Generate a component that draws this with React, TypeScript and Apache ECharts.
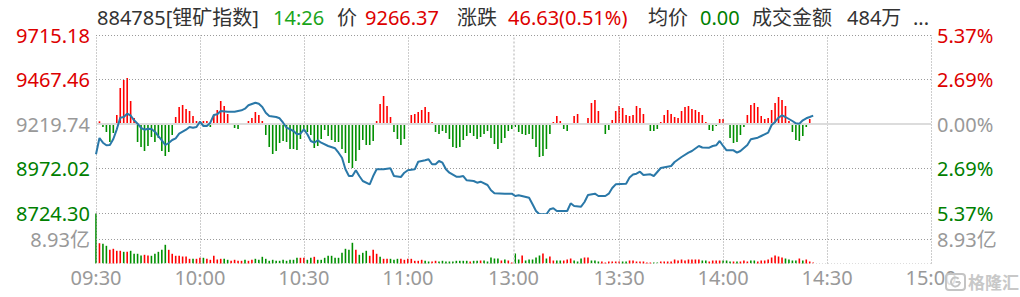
import React, { useEffect, useRef } from 'react';
import * as echarts from 'echarts';

const TXT_RED = '#dd0000';
const TXT_GREEN = '#008000';
const BAR_RED = '#ff0000';
const BAR_GREEN = '#008f00';
const GRAY = '#999999';
const LINE_BLUE = '#2a78a8';
const FONT = "'Noto Sans', 'Noto Sans CJK SC', sans-serif";

const prevClose = 9219.74;
const priceTicks = [9715.18, 9467.46, 9219.74, 8972.02, 8724.3];
const pctTicks = [5.37, 2.69, 0, -2.69, -5.37];
const volTicks = [8.93];
const timeLabelPos = [0, 30, 60, 90, 120.5, 151, 181, 211, 241];
const timeLabels = ['09:30', '10:00', '10:30', '11:00', '13:00', '13:30', '14:00', '14:30', '15:00'];

// index price: [minute slot, value]
const pricePoints = [
  [0, 9051.0], [1, 9141.8], [2, 9115.6], [3, 9101.2], [4, 9102.8], [5, 9136.2], [6, 9190.2], [7, 9254.8], [8, 9258.7], [9, 9277.1],
  [10, 9267.1], [11, 9240.3], [12, 9221.4], [13, 9197.5], [14, 9188.0], [15, 9193.6], [16, 9191.9], [17, 9176.9], [18, 9152.9], [19, 9129.0],
  [20, 9102.8], [21, 9114.0], [22, 9130.7], [23, 9140.1], [24, 9165.7], [26, 9188.0], [27, 9203.0], [28, 9199.1], [29, 9203.0], [30, 9232.5],
  [31, 9208.6], [32, 9208.6], [33, 9227.0], [34, 9269.8], [35, 9273.7], [36, 9292.1], [38, 9288.2], [40, 9288.2], [42, 9296.0], [43, 9304.9],
  [44, 9323.8], [46, 9338.3], [47, 9332.7], [48, 9314.4], [49, 9282.6], [50, 9264.3], [52, 9258.7], [53, 9251.5], [54, 9227.0], [55, 9199.1],
  [57, 9180.8], [58, 9162.4], [59, 9165.7], [60, 9190.2], [61, 9162.4], [62, 9125.1], [63, 9115.6], [64, 9129.0], [65, 9115.6], [67, 9097.3],
  [69, 9084.5], [70, 9060.0], [71, 9032.1], [72, 8967.6], [73, 8930.2], [74, 8930.2], [75, 8962.0], [76, 8930.2], [77, 8902.4], [79, 8884.0],
  [80, 8930.2], [81, 8967.6], [83, 8967.6], [85, 8973.1], [86, 8930.2], [88, 8924.7], [89, 8948.6], [90, 8962.0], [92, 8967.6], [93, 9009.8],
  [95, 9017.6], [96, 9023.2], [97, 8995.4], [98, 8995.4], [99, 9013.7], [100, 9004.3], [101, 8967.6], [102, 8948.6], [104, 8926.3], [105, 8926.3],
  [106, 8930.2], [107, 8906.3], [109, 8902.4], [110, 8892.9], [111, 8898.5], [113, 8880.1], [114, 8850.6], [115, 8833.9], [118, 8831.7], [120, 8831.7],
  [121, 8818.9], [122, 8822.8], [125, 8809.4], [126, 8772.7], [127, 8735.4], [128, 8717.0], [130, 8717.0], [131, 8744.9], [132, 8750.4], [133, 8735.4],
  [136, 8735.4], [137, 8778.2], [138, 8763.2], [140, 8759.3], [141, 8785.5], [142, 8824.5], [144, 8831.7], [145, 8818.9], [147, 8818.9], [148, 8831.7],
  [149, 8863.4], [150, 8884.0], [153, 8887.4], [154, 8921.9], [155, 8938.6], [156, 8943.1], [157, 8954.2], [158, 8935.8], [160, 8939.7], [161, 8930.2],
  [163, 8974.8], [166, 8985.9], [167, 9008.2], [169, 9036.0], [171, 9060.0], [172, 9069.4], [174, 9097.3], [175, 9088.9], [177, 9087.8], [178, 9097.3],
  [179, 9101.2], [180, 9125.1], [181, 9097.3], [182, 9073.3], [184, 9073.3], [185, 9060.0], [186, 9069.4], [188, 9102.8], [189, 9134.5], [191, 9143.5],
  [192, 9152.9], [194, 9171.3], [195, 9214.2], [196, 9230.9], [197, 9254.8], [198, 9268.2], [199, 9258.7], [201, 9236.4], [202, 9223.6], [203, 9221.4],
  [204, 9240.3], [205, 9251.5], [206, 9258.7], [207, 9266.37],
];

// buy/sell force bars around the zero line (one per minute)
const force = [
  0, 2.7, -3, -8, -18, -9, 9, 36, 44, 46,
  23, 6, -18, -23, -27, -22, -13, -18, -14, -27,
  -32, -28, -11, 7, 17, 19, 15, 13, 8, 3,
  3, 3, 3, -3, 9, 14, 23, 18, 10, 1,
  -4, -5, -0.5, 1, 3, 6, 12, 9, 3, -11,
  -23, -30, -27, -19, -17, -18, -25, -25, -26, -15,
  -7, -8, -11, -24, -22, -15, -6, -12, -16, -18,
  -18, -25, -29, -39, -44, -37, -26, -16, -21, -21,
  -17, 3, 20, 28, 18, 7, -8, -15, -21, -15,
  -0.5, 9, 10, 12, 14, 17, 12, 2, -8, -10,
  -7, -9, -15, -23, -24, -23, -16, -12, -9, -12,
  -15, -13, -10, -7, -14, -20, -25, -19, -14, -7,
  -5, -3, -8, -10, -11, -10, -15, -23, -33, -32,
  -25, -10, 2, 8, 3, -5, -7, 1, 8, 10,
  1, 1, 6, 21, 24, 13, 0.5, -10, -6, 4,
  13, 18, 16, 9, 8, 9, 18, 16, 10, 0.5,
  -7, -7, -5, 2, 9, 14, 10, 7, 6, 13,
  17, 18, 15, 14, 12, 9, 2, -6, -7, -2,
  5, 5, 1, -14, -19, -18, -11, -3, 9, 19,
  21, 17, 8, 5, 6, 14, 21, 27, 24, 18,
  3, -8, -16, -17, -12, -3, 5, -1,
];

// minute turnover (亿)
const volume = [
  18.2, 7.4, 7.18, 6.45, 4.99, 5.36, 4.63, 4.63, 4.26, 4.26,
  4.63, 3.54, 3.54, 2.92, 3.17, 2.92, 2.81, 3.54, 4.26, 4.99,
  6.82, 4.99, 3.54, 2.81, 2.81, 2.55, 2.55, 1.71, 1.71, 1.71,
  2.08, 2.08, 1.71, 1.35, 2.81, 1.46, 1.71, 1.71, 1.35, 0.98,
  1.35, 0.98, 0.98, 1.35, 0.98, 1.35, 1.71, 1.35, 2.44, 1.71,
  0.98, 1.35, 0.98, 0.98, 1.35, 0.98, 1.35, 1.35, 2.08, 2.08,
  2.08, 1.35, 2.08, 2.44, 1.35, 1.35, 2.08, 2.81, 2.81, 2.08,
  2.08, 3.9, 5.36, 4.99, 7.55, 4.99, 3.17, 3.9, 4.63, 2.81,
  4.99, 3.54, 2.44, 1.71, 1.71, 1.71, 1.35, 1.71, 1.71, 1.35,
  1.71, 1.71, 0.98, 0.98, 1.35, 0.98, 0.73, 0.73, 0.98, 0.73,
  0.98, 0.73, 0.73, 0.73, 0.98, 0.98, 0.98, 0.98, 0.73, 0.98,
  0.98, 1.09, 1.09, 0.73, 2.19, 1.82, 1.82, 1.09, 1.46, 1.09,
  0.36, 3.65, 1.46, 2.92, 1.09, 1.46, 1.46, 2.19, 2.92, 3.65,
  1.82, 2.55, 1.09, 1.09, 1.09, 1.09, 1.46, 1.82, 1.09, 0.73,
  1.82, 2.19, 2.19, 1.09, 1.09, 0.73, 0.73, 0.36, 0.73, 0.73,
  0.73, 0.73, 0.73, 0.73, 1.09, 1.09, 0.73, 0.73, 0.73, 0.36,
  0.36, 0.36, 0.36, 0.73, 0.73, 0.73, 0.73, 1.46, 1.09, 1.46,
  1.09, 1.46, 1.46, 1.46, 1.46, 1.09, 1.09, 0.73, 1.09, 1.09,
  1.09, 1.09, 1.09, 0.73, 0.73, 0.73, 0.73, 1.09, 0.73, 1.09,
  1.09, 0.73, 1.09, 1.09, 1.46, 2.19, 2.92, 2.55, 2.19, 1.82,
  1.46, 1.09, 1.09, 1.82, 1.09, 1.46, 0.73, 0.36,
];
// r = up minute, g = down minute
const volDir =
  'grggrrrrgr' + 'ggggrrgggg' + 'grrrrrrrgr' + 'rgrrrrrggr' + 'rrrgrrgggg' +
  'gggggggggr' + 'rggrgggggg' + 'gggggrgggr' + 'rrgrrgggrr' + 'rrrrrggrrg' +
  'ggggggggrg' + 'grgggggrgr' + 'rggrgggggr' + 'grrggrrrgg' + 'grrgggrrrr' +
  'rrggrrrrrr' + 'rggrrrrrrr' + 'rrrrrggrrr' + 'rgggrgrrrg' + 'grrrrrrrrg' +
  'gggrgrrr';

const headerItems = [
  { text: '884785[锂矿指数]', color: '#333333', x: 97 },
  { text: '14:26', color: '#1aa51a', x: 273 },
  { text: '价', color: '#333333', x: 337 },
  { text: '9266.37', color: TXT_RED, x: 365 },
  { text: '涨跌', color: '#333333', x: 457 },
  { text: '46.63(0.51%)', color: TXT_RED, x: 508 },
  { text: '均价', color: '#333333', x: 648 },
  { text: '0.00', color: TXT_GREEN, x: 700 },
  { text: '成交金额', color: '#333333', x: 752 },
  { text: '484万', color: '#333333', x: 847 },
  { text: '...', color: '#333333', x: 913 },
];

const dotted = { type: [1, 2] as any, color: '#9a9a9a', width: 1 };

function buildOption() {
  const priceColor = (v: any) => {
    const n = Number(v);
    if (Math.abs(n - prevClose) < 0.01) return GRAY;
    return n > prevClose ? TXT_RED : TXT_GREEN;
  };
  const pctColor = (v: any) => {
    const n = Number(v);
    if (Math.abs(n) < 1e-6) return GRAY;
    return n > 0 ? TXT_RED : TXT_GREEN;
  };
  const lblBase = { fontSize: 20, fontFamily: FONT };
  const noAxis = { axisLine: { show: false }, axisTick: { show: false }, splitLine: { show: false } };

  return {
    animation: false,
    backgroundColor: '#ffffff',
    grid: [
      { left: 96, right: 89, top: 35, height: 228.5 },
      { left: 96, right: 89, top: 35, height: 178 },
      { left: 96, right: 89, top: 239, height: 24.5 },
    ],
    xAxis: [
      { type: 'value', gridIndex: 0, min: 0, max: 241, show: false },
      { type: 'value', gridIndex: 1, min: 0, max: 241, show: false },
      {
        type: 'value', gridIndex: 2, min: 0, max: 241, ...noAxis,
        axisLabel: {
          ...lblBase, color: GRAY, margin: 4,
          customValues: timeLabelPos,
          formatter: (v: number) => {
            const i = timeLabelPos.indexOf(Number(v));
            return i >= 0 ? timeLabels[i] : '';
          },
        },
      },
    ],
    yAxis: [
      { type: 'value', gridIndex: 0, min: 0, max: 1, show: false },
      {
        type: 'value', gridIndex: 1, position: 'left', min: 8724.3, max: 9715.18, ...noAxis,
        axisLabel: { ...lblBase, margin: 6, customValues: priceTicks, color: priceColor, formatter: (v: number) => Number(v).toFixed(2) },
      },
      {
        type: 'value', gridIndex: 1, position: 'right', min: -5.37, max: 5.37, ...noAxis,
        axisLabel: { ...lblBase, margin: 6, customValues: pctTicks, color: pctColor, formatter: (v: number) => Math.abs(Number(v)).toFixed(2) + '%' },
      },
      { type: 'value', gridIndex: 1, min: -89, max: 89, show: false },
      {
        type: 'value', gridIndex: 2, position: 'left', min: 0, max: 8.93, ...noAxis,
        axisLabel: { ...lblBase, margin: 6, color: GRAY, customValues: volTicks, formatter: (v: number) => Number(v).toFixed(2) + '亿' },
      },
      {
        type: 'value', gridIndex: 2, position: 'right', min: 0, max: 8.93, ...noAxis,
        axisLabel: { ...lblBase, margin: 6, color: GRAY, customValues: volTicks, formatter: (v: number) => Number(v).toFixed(2) + '亿' },
      },
    ],
    series: [
      {
        type: 'line', xAxisIndex: 0, yAxisIndex: 0, data: [[0, 0]], symbol: 'none', lineStyle: { width: 0 }, silent: true, z: 1,
        markLine: {
          silent: true, symbol: ['none', 'none'], label: { show: false }, animation: false,
          data: [
            ...timeLabelPos.filter((p) => p !== 120.5).map((p) => ({ xAxis: p, lineStyle: dotted })),
            { xAxis: 120.5, lineStyle: { type: [2, 2] as any, color: '#d8d8d8', width: 2 } },
          ],
        },
      },
      {
        type: 'line', xAxisIndex: 1, yAxisIndex: 1, data: [[0, prevClose]], symbol: 'none', lineStyle: { width: 0 }, silent: true, z: 1,
        markLine: {
          silent: true, symbol: ['none', 'none'], label: { show: false }, animation: false,
          data: [
            ...priceTicks.filter((p) => p !== prevClose).map((p) => ({ yAxis: p, lineStyle: dotted })),
            { yAxis: prevClose, lineStyle: { type: 'solid', color: '#dcdcdc', width: 2 } },
          ],
        },
      },
      {
        type: 'bar', xAxisIndex: 1, yAxisIndex: 3, barWidth: 1.6, z: 2, silent: true,
        data: force.map((v, i) => ({ value: [i, v], itemStyle: { color: v >= 0 ? BAR_RED : BAR_GREEN } })),
      },
      {
        type: 'line', xAxisIndex: 1, yAxisIndex: 1, data: pricePoints, showSymbol: false, symbol: 'none', z: 5, silent: true,
        lineStyle: { color: LINE_BLUE, width: 2 },
      },
      {
        type: 'bar', xAxisIndex: 2, yAxisIndex: 4, barWidth: 1.6, clip: false, z: 2, silent: true,
        data: volume.map((v, i) => ({ value: [i, v], itemStyle: { color: volDir[i] === 'r' ? BAR_RED : BAR_GREEN } })),
        markLine: {
          silent: true, symbol: ['none', 'none'], label: { show: false }, animation: false,
          data: [
            { yAxis: 8.93, lineStyle: dotted },
            { yAxis: 0, lineStyle: { type: [1, 2] as any, color: '#dddddd', width: 1 } },
          ],
        },
      },
    ],
    graphic: [
      ...headerItems.map((h) => ({
        type: 'text', x: h.x, y: 17, silent: true,
        style: { text: h.text, fill: h.color, fontSize: 20, fontFamily: FONT, verticalAlign: 'middle', align: 'left' },
      })),
      {
        type: 'rect', x: 946, y: 274, silent: true, z: 100,
        shape: { width: 19, height: 16, r: 3 },
        style: { fill: 'rgba(255,255,255,0.7)', stroke: '#c4c4c4', lineWidth: 2 },
      },
      {
        type: 'arc', silent: true, z: 101,
        shape: { cx: 955.5, cy: 282, r: 4.5, startAngle: -Math.PI / 4, endAngle: 0, clockwise: false },
        style: { fill: 'none', stroke: '#c4c4c4', lineWidth: 2 },
      },
      {
        type: 'line', silent: true, z: 101,
        shape: { x1: 955.5, y1: 282, x2: 960, y2: 282 },
        style: { stroke: '#c4c4c4', lineWidth: 2 },
      },
      {
        type: 'text', x: 968, y: 282, silent: true, z: 101,
        style: { text: '格隆汇', fill: '#c8c8c8', stroke: '#ffffff', lineWidth: 1, fontSize: 17, fontWeight: 'bold', fontFamily: FONT, verticalAlign: 'middle', align: 'left' },
      },
    ],
  };
}

export default function App() {
  const ref = useRef<HTMLDivElement>(null);
  useEffect(() => {
    if (!ref.current) return;
    const chart = echarts.init(ref.current, undefined, { renderer: 'svg' });
    chart.setOption(buildOption() as any);
    return () => chart.dispose();
  }, []);
  return (
    <div
      ref={ref}
      style={{ position: 'fixed', left: 0, top: 0, width: 1020, height: 297, background: '#fff' }}
    />
  );
}
